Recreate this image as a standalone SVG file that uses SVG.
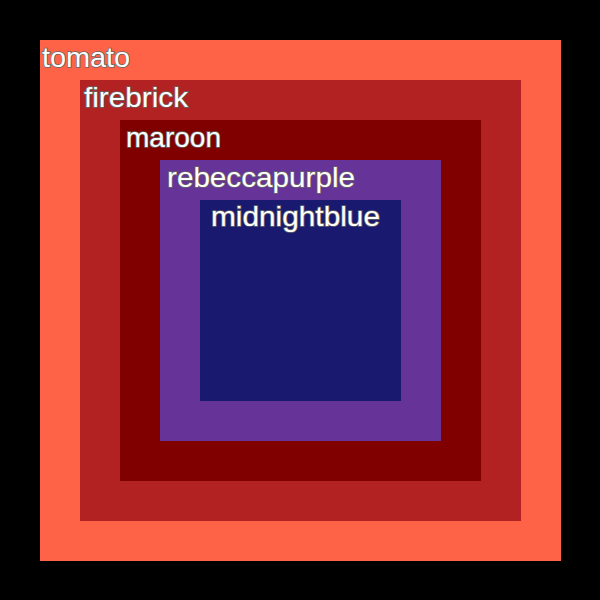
<svg xmlns="http://www.w3.org/2000/svg" width="600" height="600" viewBox="0 0 600 600">
<style>
text{font-family:"Liberation Sans",Arial,sans-serif;font-size:28px;fill:#fff;stroke:#666;stroke-width:1.6px;paint-order:stroke;}
</style>
<rect x="0" y="0" width="600" height="600" fill="#000"/>
<g id="tomato"><rect x="40" y="40" width="521" height="521" fill="tomato"/><text x="42" y="67" textLength="88" lengthAdjust="spacingAndGlyphs">tomato</text></g>
<g id="firebrick"><rect x="80" y="80" width="441" height="441" fill="firebrick"/><text x="84" y="107" textLength="104" lengthAdjust="spacingAndGlyphs">firebrick</text></g>
<g id="maroon"><rect x="120" y="120" width="361" height="361" fill="maroon"/><text x="126" y="147" textLength="95" lengthAdjust="spacingAndGlyphs">maroon</text></g>
<g id="rebeccapurple"><rect x="160" y="160" width="281" height="281" fill="rebeccapurple"/><text x="167" y="187" textLength="188" lengthAdjust="spacingAndGlyphs">rebeccapurple</text></g>
<g id="midnightblue"><rect x="200" y="200" width="201" height="201" fill="midnightblue"/><text x="211" y="226" textLength="169" lengthAdjust="spacingAndGlyphs">midnightblue</text></g>
</svg>
